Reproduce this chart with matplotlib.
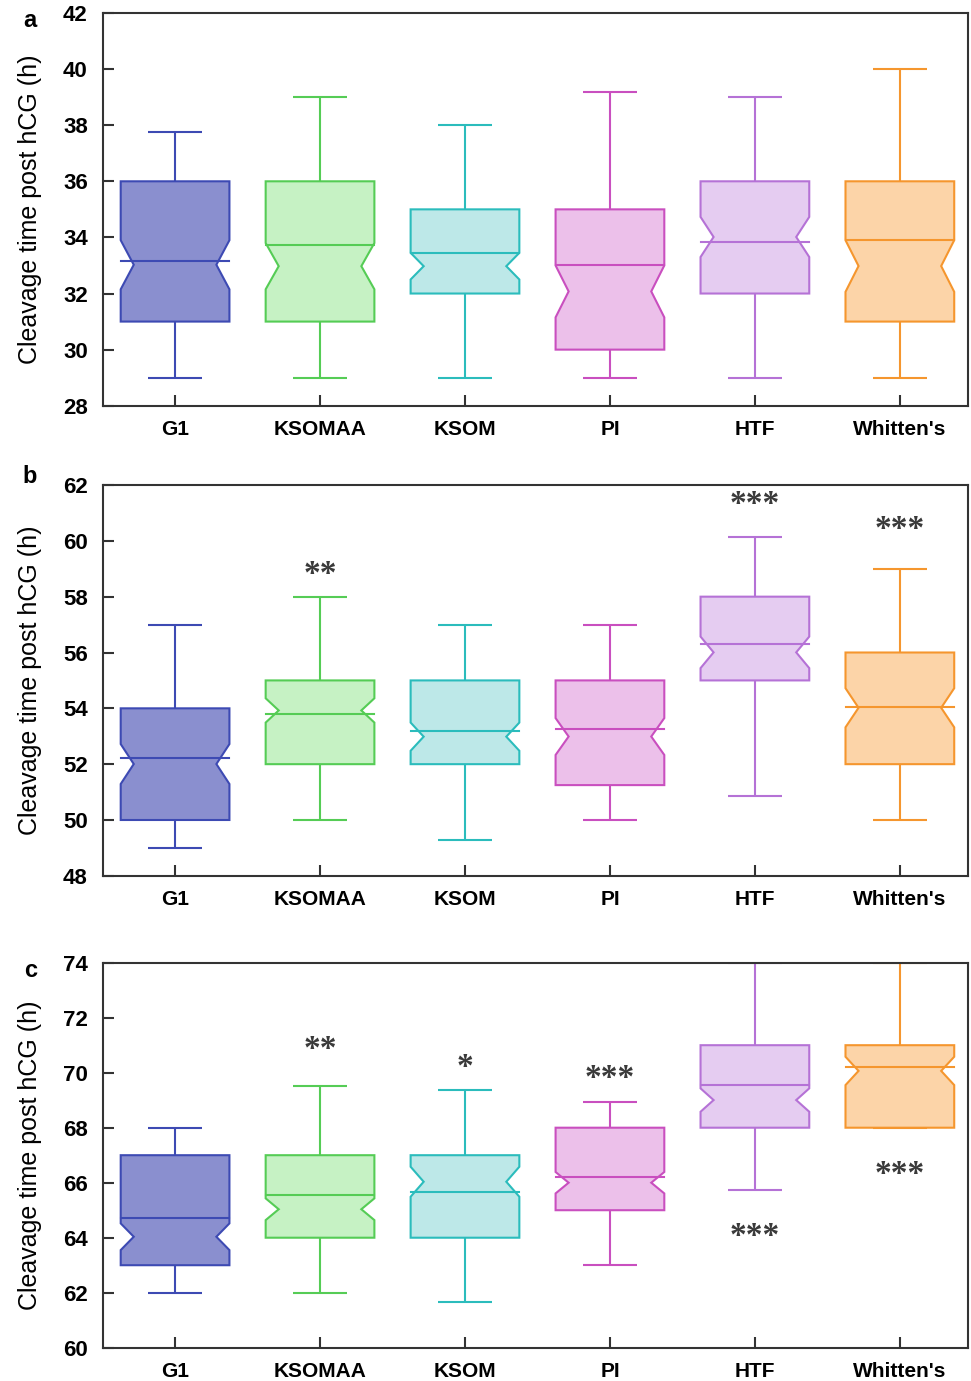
import numpy as np
import matplotlib.pyplot as plt

plt.rcParams['font.family'] = ['Liberation Sans', 'DejaVu Sans']

groups = ["G1", "KSOMAA", "KSOM", "PI", "HTF", "Whitten's"]
face_colors = ['#8a8fcf', '#c6f2c4', '#bde8e8', '#ecc0ea', '#e5ccf1', '#fcd4a8']
edge_colors = ['#3d4ab3', '#55cc55', '#2bbcbc', '#c94fbf', '#b572d6', '#f5962e']

# first cleavage (panel a)
a_low = [29, 29, 29, 29, 29, 29]
a_q1 = [31, 31, 32, 30, 32, 31]
a_median = [33.15, 33.73, 33.45, 33.0, 33.85, 33.9]
a_notch_lo = [32.15, 32.15, 32.5, 31.15, 33.3, 32.06]
a_notch_hi = [33.9, 33.8, 33.45, 33.0, 34.73, 33.9]
a_q3 = [36, 36, 35, 35, 36, 36]
a_high = [37.75, 39, 38, 39.2, 39, 40]

# second cleavage (panel b)
b_low = [49, 50, 49.3, 50, 50.85, 50]
b_q1 = [50, 52, 52, 51.25, 55, 52]
b_median = [52.21, 53.8, 53.19, 53.25, 56.3, 54.04]
b_notch_lo = [51.29, 53.49, 52.48, 52.33, 55.44, 53.32]
b_notch_hi = [52.72, 54.36, 53.49, 53.65, 56.57, 54.72]
b_q3 = [54, 55, 55, 55, 58, 56]
b_high = [57, 58, 57, 57, 60.15, 59]
b_stars = ["", "**", "", "", "***", "***"]
b_star_y = [None, 59.1, None, None, 61.6, 60.7]

# third cleavage (panel c)
c_low = [62, 62, 61.65, 63, 65.73, 68]
c_q1 = [63, 64, 64, 65, 68, 68]
c_median = [64.73, 65.55, 65.65, 66.22, 69.55, 70.2]
c_notch_lo = [63.55, 64.64, 65.49, 65.61, 68.58, 69.55]
c_notch_hi = [64.52, 65.43, 66.58, 66.39, 69.43, 70.58]
c_q3 = [67, 67, 67, 68, 71, 71]
c_high = [68, 69.53, 69.37, 68.92, 74, 74]
c_stars = ["", "**", "*", "***", "***", "***"]
c_star_y = [None, 71.13, 70.5, 70.1, 64.34, 66.58]

panels = [
    ("a", (28, 42), a_low, a_q1, a_median, a_notch_lo, a_notch_hi, a_q3, a_high, None, None),
    ("b", (48, 62), b_low, b_q1, b_median, b_notch_lo, b_notch_hi, b_q3, b_high, b_stars, b_star_y),
    ("c", (60, 74), c_low, c_q1, c_median, c_notch_lo, c_notch_hi, c_q3, c_high, c_stars, c_star_y),
]

# axes rectangles and panel letter spots in figure fractions
rects = [
    [0.1061, 0.7062, 0.8908, 0.2844],
    [0.1061, 0.3658, 0.8908, 0.2830],
    [0.1061, 0.0241, 0.8908, 0.2788],
]
letter_xy = [(0.031, 0.9855), (0.031, 0.6546), (0.032, 0.2976)]

box_w = 0.75
cap_w = 0.37
notch_in = 0.09
lw = 1.5
star_fs = 24


def notched_box(ax, x, low, q1, med, lo, hi, q3, high, fc, ec):
    l, r = x - box_w / 2, x + box_w / 2
    mid = (lo + hi) / 2
    xs = [l, r, r, r - notch_in, r, r, l, l, l + notch_in, l, l]
    ys = [q1, q1, lo, mid, hi, q3, q3, hi, mid, lo, q1]
    ax.fill(xs, ys, facecolor=fc, edgecolor=ec, linewidth=lw, zorder=2)
    ax.plot([l, r], [med, med], color=ec, linewidth=lw, zorder=3)
    ax.vlines(x, q3, high, color=ec, linewidth=lw, zorder=1)
    ax.vlines(x, low, q1, color=ec, linewidth=lw, zorder=1)
    ax.hlines([low, high], x - cap_w / 2, x + cap_w / 2, color=ec, linewidth=lw, zorder=1)


fig = plt.figure(figsize=(9.71, 13.81), dpi=100)
positions = np.arange(1, len(groups) + 1)

for rect, lxy, (letter, ylim, low, q1, med, lo, hi, q3, high, stars, star_y) in zip(rects, letter_xy, panels):
    ax = fig.add_axes(rect)
    for i, x in enumerate(positions):
        notched_box(ax, x, low[i], q1[i], med[i], lo[i], hi[i], q3[i], high[i],
                    face_colors[i], edge_colors[i])
        if stars and stars[i]:
            # the serif asterisk sits high on the line, so drop the baseline
            ax.annotate(stars[i], (x, star_y[i]), xytext=(0, -0.5 * star_fs),
                        textcoords='offset points', ha='center', va='baseline',
                        fontsize=star_fs, family='Liberation Serif', fontweight='bold',
                        color='#3a3a3a', zorder=4)
    ax.set_xlim(0.503, 6.47)
    ax.set_ylim(*ylim)
    ax.set_yticks(np.arange(ylim[0], ylim[1] + 1, 2))
    ax.set_xticks(positions)
    ax.set_xticklabels(groups)
    ax.tick_params(direction='in', length=8, width=1.5, color='#333333',
                   labelsize=15, pad=10)
    ax.tick_params(axis='y', pad=11, labelsize=16)
    for lab in ax.get_xticklabels() + ax.get_yticklabels():
        lab.set_fontweight('bold')
    for sp in ax.spines.values():
        sp.set_linewidth(1.5)
        sp.set_color('#333333')
    ax.set_ylabel("Cleavage time post hCG (h)", fontsize=18, labelpad=15)
    fig.text(lxy[0], lxy[1], letter, fontsize=17, fontweight='bold',
             ha='center', va='center')

fig.savefig("out.png", dpi=100)
